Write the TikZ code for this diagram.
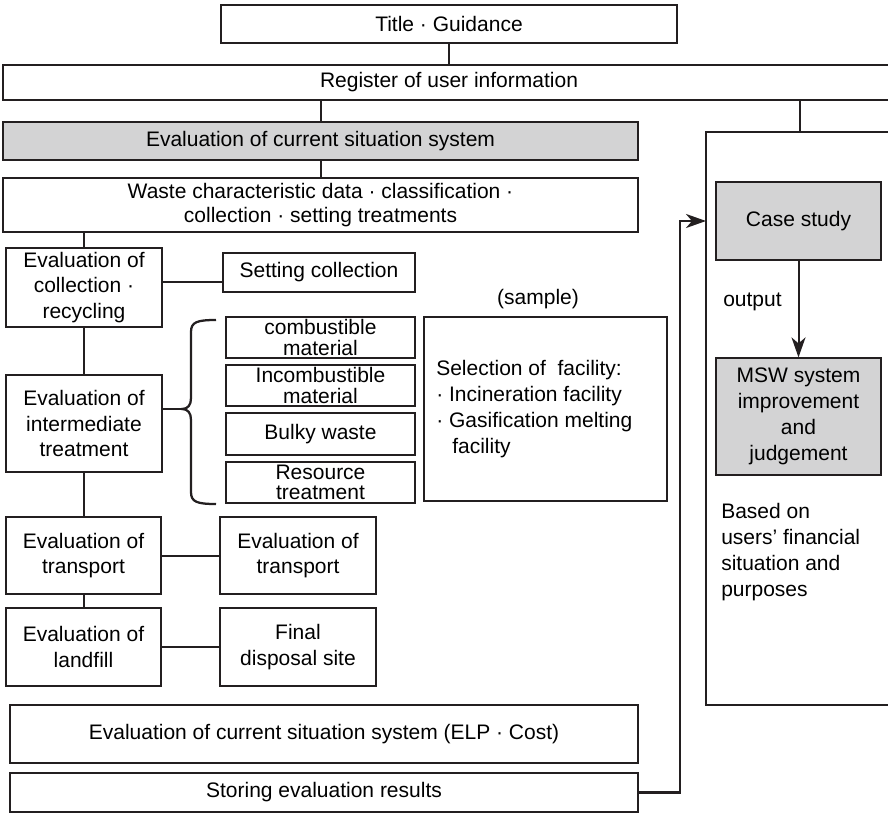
\documentclass[tikz,border=0pt]{standalone}
\usepackage{fontspec}
\setmainfont{Liberation Sans}
\usetikzlibrary{arrows.meta}
\definecolor{boxgray}{RGB}{211,211,212}
\definecolor{ink}{RGB}{35,31,32}
\begin{document}
\begin{tikzpicture}[x=0.75pt,y=-0.75pt,
  font=\fontsize{15.75}{19}\selectfont,
  box/.style={draw=ink, line width=0.9pt, fill=white, inner sep=0pt, align=center, text=black},
  graybox/.style={box, fill=boxgray},
  tight/.style={font=\fontsize{15.75}{15.5}\selectfont},
  wide/.style={font=\fontsize{15.75}{19.5}\selectfont},
  conn/.style={draw=ink, line width=1.5pt},
  bypass/.style={draw=ink, line width=1.9pt},
  plain/.style={inner sep=0pt, text=black}]
\useasboundingbox (0,0) rectangle (888,813);
\clip (0,0) rectangle (888,813);

% top
\node[box, minimum width=342pt, minimum height=28.5pt] (title) at (449,24) {Title · Guidance};
\node[box, minimum width=669pt, minimum height=26.25pt] (reg) at (449,82.5) {Register of user information};
\node[graybox, minimum width=476.25pt, minimum height=28.5pt] (cur) at (320.5,141) {Evaluation of current situation system};
\node[box, minimum width=476.25pt, minimum height=40.5pt, font=\fontsize{15.75}{17.5}\selectfont] (waste) at (320.5,205) {Waste characteristic data · classification ·\\collection · setting treatments};

% left column
\node[box, minimum width=117pt, minimum height=59.25pt] (ecol) at (84,287.5) {Evaluation of\\collection ·\\recycling};
\node[box, minimum width=144pt, minimum height=29.25pt] (setcol) at (319,272.5) {Setting collection};
\node[box, minimum width=117pt, minimum height=72.75pt] (eint) at (84,423.5) {Evaluation of\\intermediate\\treatment};
\node[box, tight, minimum width=141.75pt, minimum height=30.75pt] (comb) at (320.5,337.5) {combustible\\material};
\node[box, tight, minimum width=141.75pt, minimum height=30.75pt] (incomb) at (320.5,385.5) {Incombustible\\material};
\node[box, tight, minimum width=141.75pt, minimum height=31.5pt] (bulky) at (320.5,434) {Bulky waste};
\node[box, tight, minimum width=141.75pt, minimum height=30.75pt] (res) at (320.5,482.5) {Resource\\treatment};

\node[plain] (sample) at (538,299) {(sample)};
\node[box, minimum width=182.25pt, minimum height=138pt] (sel) at (545.5,409) {};
\node[plain, wide, anchor=west, align=left] (seltext) at (436,409.5) {Selection of~ facility:\\· Incineration facility\\· Gasification melting\\\hspace{12pt}facility};

\node[box, minimum width=116.25pt, minimum height=57.75pt] (etr) at (83.5,555.5) {Evaluation of\\transport};
\node[box, minimum width=117pt, minimum height=57.75pt] (etr2) at (298,555.5) {Evaluation of\\transport};
\node[box, minimum width=116.25pt, minimum height=58.5pt] (elf) at (83.5,647) {Evaluation of\\landfill};
\node[box, minimum width=117pt, minimum height=58.5pt] (fds) at (298,647) {Final\\disposal site};

\node[box, minimum width=471pt, minimum height=43.5pt] (elp) at (324,734) {Evaluation of current situation system (ELP · Cost)};
\node[box, minimum width=471pt, minimum height=29.25pt] (store) at (324,792.5) {Storing evaluation results};

% right panel
\coordinate (ptop) at (800,132);
\coordinate (pTR) at (895,132);
\coordinate (pTL) at (706,132);
\coordinate (pBL) at (706,705);
\coordinate (pBR) at (895,705);
\draw[draw=ink, line width=0.9pt] (pTR) -- (pTL) -- (pBL) -- (pBR);
\node[graybox, minimum width=123.75pt, minimum height=58.5pt] (case) at (798.5,221) {Case study};
\node[graybox, wide, minimum width=123.75pt, minimum height=87.75pt] (msw) at (798.5,416.5) {MSW system\\improvement\\and\\judgement};
\node[plain, anchor=west] (output) at (723,302) {output};
\node[plain, wide, anchor=north west, align=left] (based) at (721,503) {Based on\\users’ financial\\situation and\\purposes};

% connectors
\draw[conn] (title.south) -- (reg.north -| title.south);
\draw[conn] (reg.south -| cur.north) -- (cur.north);
\draw[conn] (reg.south -| ptop) -- (ptop);
\draw[conn] (cur.south) -- (waste.north);
\draw[conn] (waste.south -| ecol.north) -- (ecol.north);
\draw[conn] (ecol.east |- 0,282) -- (setcol.west |- 0,282);
\draw[conn] (ecol.south) -- (eint.north);
\draw[conn] (eint.south) -- (etr.north -| eint.south);
\draw[conn] (etr.south) -- (elf.north);
\draw[conn] (etr.east) -- (etr2.west);
\draw[conn] (elf.east) -- (fds.west);

% brace
\coordinate (btip) at (182,409);
\draw[conn, line width=1.7pt] (216,320) .. controls (197,320) and (191,322) .. (191,332) -- (191,398)
  .. controls (191,405) and (188,409) .. (btip)
  .. controls (188,409) and (191,413) .. (191,420) -- (191,492)
  .. controls (191,502) and (197,504) .. (216,504);
\draw[conn, line width=1.7pt] (eint.east |- btip) -- (btip);

% arrows
\draw[conn, -{Stealth[length=15pt,width=10.5pt,inset=4.5pt]}] (case.south) -- (msw.north);
\coordinate (bend) at (680,221);
\draw[bypass, -{Stealth[length=15pt,width=10.5pt,inset=4.5pt]}] (store.east) -| (bend) -- (pTL |- bend);
\end{tikzpicture}
\end{document}
